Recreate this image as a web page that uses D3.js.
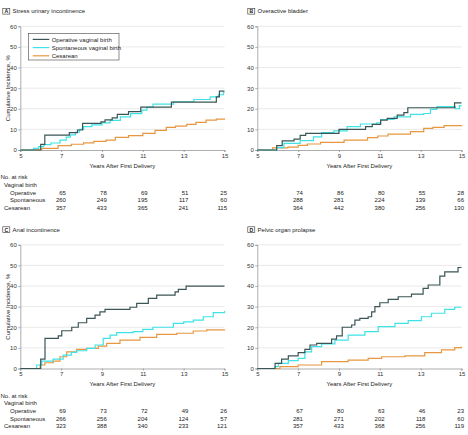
<!DOCTYPE html>
<html><head><meta charset="utf-8">
<script src="https://cdn.jsdelivr.net/npm/d3@7"></script>
<style>body{margin:0;background:#fff}svg{display:block}text{font-family:"Liberation Sans",Arial,sans-serif}</style>
</head><body>
<script>
// ---- data ----
const xTicks = [5, 7, 9, 11, 13, 15];
const yTicks = [0, 10, 20, 30, 40, 50, 60];
const riskTimes = [7, 9, 11, 13, 15];
const seriesNames = ["Operative vaginal birth", "Spontaneous vaginal birth", "Cesarean"];
const riskLabels = ["No. at risk", "Vaginal birth", "Operative", "Spontaneous", "Cesarean"];

const A_operative = [[5,0],[6.0,2.7],[6.2,7.2],[7.4,8.4],[7.8,9.7],[8.05,12.9],[8.95,13.6],[9.15,14.6],[9.5,15.6],[9.75,17.3],[10.3,18.6],[10.9,20.8],[12.4,23.2],[14.6,25.8],[14.75,28.6],[15,28.6]];
const A_spontaneous = [[5,0],[5.65,0.8],[5.9,1.6],[6.15,2.6],[6.5,3.4],[6.95,4.8],[7.25,6.2],[7.45,7.3],[7.7,8.6],[7.9,10.0],[8.1,11.3],[8.5,12.2],[9.0,13.2],[9.4,14.4],[9.9,16.1],[10.4,17.6],[10.95,19.3],[11.2,20.8],[11.5,22.3],[12.5,23.4],[13.5,24.5],[14.3,25.8],[14.7,26.8],[14.95,27.8],[15,27.8]];
const A_cesarean = [[5,0],[6.05,0.8],[6.85,2.1],[7.5,2.8],[8.1,3.5],[8.6,4.2],[9.2,4.8],[9.65,6.1],[10.3,7.0],[11.0,8.1],[11.6,9.5],[12.15,11.0],[12.6,11.6],[13.15,12.4],[13.6,13.4],[14.1,14.5],[14.6,15.0],[15,15.3]];

const B_operative = [[5,0],[5.95,2.1],[6.22,4.4],[6.8,5.3],[7.1,7.1],[7.37,8.1],[9.0,10.0],[10.3,11.3],[10.63,12.4],[11.04,14.5],[11.36,15.3],[11.85,16.9],[12.18,18.1],[12.37,20.5],[14.66,22.9],[15,22.9]];
const B_spontaneous = [[5,0],[5.95,1.2],[6.3,3.2],[7.1,4.5],[7.75,6.4],[8.15,8.4],[8.75,9.3],[9.4,11.3],[10.05,12.6],[10.85,13.2],[11.04,14.8],[11.7,16.1],[12.5,17.3],[13.15,17.7],[13.48,19.7],[13.8,21.0],[14.7,20.0],[14.9,21.5],[15,21.5]];
const B_cesarean = [[5,0],[5.75,1.0],[6.5,1.4],[7.0,2.2],[7.45,2.9],[8.1,3.7],[9.25,4.8],[10.4,6.0],[10.9,6.8],[11.4,7.7],[12.5,8.9],[13.15,10.5],[13.6,11.0],[14.15,11.8],[15,12.1]];

const C_operative = [[5,0],[6.0,4.5],[6.21,14.6],[6.86,15.8],[7.03,18.3],[7.52,20.0],[7.84,22.2],[8.25,24.3],[8.66,25.9],[8.9,27.5],[9.15,28.7],[10.37,29.7],[10.7,31.6],[11.27,34.0],[11.68,35.6],[12.58,37.2],[12.74,38.4],[13.12,40.0],[15,40.0]];
const C_spontaneous = [[5,0],[5.8,1.7],[6.05,3.6],[6.6,4.5],[7.1,6.5],[7.5,7.8],[7.76,8.6],[8.25,9.8],[8.66,11.4],[9.06,14.6],[9.4,16.2],[9.72,17.4],[10.53,17.9],[11.0,19.0],[11.5,20.0],[12.5,21.9],[13.0,22.6],[13.47,23.5],[13.96,25.1],[14.45,27.1],[15,27.9]];
const C_cesarean = [[5,0],[5.97,1.7],[6.2,2.8],[6.62,3.6],[6.94,5.7],[7.27,8.1],[7.76,9.3],[8.25,9.8],[8.82,10.9],[9.23,12.2],[9.88,13.8],[10.86,15.1],[11.68,16.6],[12.66,17.1],[13.47,18.2],[14.13,18.7],[15,19.0]];

const D_operative = [[5,0],[5.87,2.5],[6.19,4.5],[6.52,6.1],[7.0,7.7],[7.33,9.3],[7.58,11.4],[7.91,12.2],[8.64,14.2],[8.88,15.8],[9.16,20.0],[9.62,21.1],[9.78,23.5],[10.02,24.3],[10.43,25.1],[10.6,27.5],[10.76,30.0],[11.0,31.9],[11.41,33.5],[11.9,34.8],[12.55,36.1],[13.12,38.9],[13.37,40.5],[13.94,44.8],[14.18,46.9],[14.83,49.0],[15,49.0]];
const D_spontaneous = [[5,0],[5.87,0.9],[6.03,2.5],[6.52,3.8],[7.0,4.9],[7.33,8.1],[7.66,10.6],[8.15,11.9],[8.8,13.8],[9.45,16.2],[10.27,17.9],[10.92,20.3],[11.74,21.9],[12.39,23.2],[13.04,25.1],[13.53,26.8],[14.18,28.7],[14.67,29.7],[15,29.7]];
const D_cesarean = [[5,0],[6.11,0.9],[7.0,1.7],[8.15,3.3],[9.45,4.1],[10.43,4.9],[11.09,5.7],[12.23,6.1],[13.2,7.7],[14.02,9.0],[14.67,10.1],[15,10.6]];

const A_risk = [[65,78,69,51,25],[260,249,195,117,60],[357,433,365,241,115]];
const B_risk = [[74,86,80,55,28],[288,281,224,139,66],[364,442,380,256,130]];
const C_risk = [[69,73,72,49,26],[266,256,204,124,57],[323,388,340,233,121]];
const D_risk = [[67,80,63,46,23],[281,271,202,118,60],[357,433,368,256,119]];

const colors = ["#3b5556", "#3fe3e6", "#e8963f"];

// ---- drawing ----
const svg = d3.select("body").append("svg").attr("width", 468).attr("height", 435);

const panels = [
  {key:"A", title:"Stress urinary incontinence", dx:0, dy:0, tx:2.3, left:true, series:[A_operative,A_spontaneous,A_cesarean], risk:A_risk, legend:true},
  {key:"B", title:"Overactive bladder", dx:237, dy:0, tx:247.3, left:false, series:[B_operative,B_spontaneous,B_cesarean], risk:B_risk},
  {key:"C", title:"Anal incontinence", dx:0, dy:218.5, tx:2.3, left:true, series:[C_operative,C_spontaneous,C_cesarean], risk:C_risk},
  {key:"D", title:"Pelvic organ prolapse", dx:237, dy:218.5, tx:247.3, left:false, series:[D_operative,D_spontaneous,D_cesarean], risk:D_risk}
];

const FS = 6;

panels.forEach(p => {
  const g = svg.append("g");
  const x = d3.scaleLinear().domain([5, 15]).range([20.3 + p.dx, 224.5 + p.dx]);
  const y = d3.scaleLinear().domain([0, 60]).range([150 + p.dy, 26.3 + p.dy]);

  // title
  g.append("rect").attr("x", p.tx + 0.5).attr("y", 8.3 + p.dy).attr("width", 7).attr("height", 5.8)
    .attr("fill", "none").attr("stroke", "#333").attr("stroke-width", 0.6);
  g.append("text").attr("x", p.tx + 4).attr("y", 13.2 + p.dy).attr("text-anchor", "middle")
    .attr("font-size", 5.2).attr("font-weight", "bold").attr("fill", "#222").text(p.key);
  g.append("text").attr("x", p.tx + 10.3).attr("y", 13.3 + p.dy).attr("font-size", FS).attr("fill", "#222").text(p.title);

  // grid
  g.append("g").selectAll("line").data(yTicks.filter(d => d > 0)).join("line")
    .attr("x1", x(5)).attr("x2", x(15)).attr("y1", d => y(d)).attr("y2", d => y(d))
    .attr("stroke", "#e3e3e3").attr("stroke-width", 0.8);

  // axes
  const ya = g.append("g").attr("transform", `translate(${x(5)},0)`)
    .call(d3.axisLeft(y).tickValues(yTicks).tickSize(2).tickPadding(1.5));
  const xa = g.append("g").attr("transform", `translate(0,${y(0)})`)
    .call(d3.axisBottom(x).tickValues(xTicks).tickSize(2).tickPadding(1.5));
  [ya, xa].forEach(a => {
    a.select(".domain").attr("stroke", "#8a8a8a").attr("stroke-width", 0.7);
    a.selectAll(".tick line").attr("stroke", "#8a8a8a").attr("stroke-width", 0.7);
    a.selectAll(".tick text").attr("font-size", FS).attr("fill", "#333").attr("font-family", "Liberation Sans, Arial, sans-serif");
  });

  g.append("text").attr("x", (x(5) + x(15)) / 2).attr("y", 167.6 + p.dy).attr("text-anchor", "middle")
    .attr("font-size", FS).attr("fill", "#222").text("Years After First Delivery");
  if (p.left) {
    g.append("text").attr("transform", `translate(10,${(y(0) + y(60)) / 2}) rotate(-90)`)
      .attr("text-anchor", "middle").attr("font-size", FS).attr("fill", "#222").text("Cumulative Incidence, %");
  }

  // lines (draw cesarean, spontaneous, then operative on top)
  const line = d3.line().x(d => x(d[0])).y(d => y(d[1])).curve(d3.curveStepAfter);
  [2, 1, 0].forEach(i => {
    g.append("path").datum(p.series[i]).attr("d", line).attr("fill", "none")
      .attr("stroke", colors[i]).attr("stroke-width", 1.2).attr("stroke-linejoin", "miter");
  });

  // legend
  if (p.legend) {
    const lg = g.append("g");
    lg.append("rect").attr("x", 28.5).attr("y", 33.5).attr("width", 90.5).attr("height", 26.5)
      .attr("fill", "#fff").attr("stroke", "#444").attr("stroke-width", 0.6);
    seriesNames.forEach((n, i) => {
      const yy = 39.4 + i * 8.2;
      lg.append("line").attr("x1", 32.7).attr("x2", 49.3).attr("y1", yy).attr("y2", yy)
        .attr("stroke", colors[i]).attr("stroke-width", 1.2);
      lg.append("text").attr("x", 51.7).attr("y", yy + 2.1).attr("font-size", FS).attr("fill", "#222").text(n);
    });
  }

  // number at risk
  const rowY = i => 179.3 + p.dy + i * 7.6;
  if (p.left) {
    const lx = [0.5, 4, 10, 10, 4];
    riskLabels.forEach((t, i) => {
      g.append("text").attr("x", lx[i]).attr("y", rowY(i)).attr("font-size", FS).attr("fill", "#222").text(t);
    });
  }
  p.risk.forEach((row, r) => {
    row.forEach((v, j) => {
      const t = riskTimes[j];
      g.append("text").attr("x", Math.min(x(t) + 4.8, x(15) + 2.5)).attr("y", rowY(r + 2))
        .attr("text-anchor", "end").attr("font-size", FS).attr("fill", "#222").text(v);
    });
  });
});
</script>
</body></html>
